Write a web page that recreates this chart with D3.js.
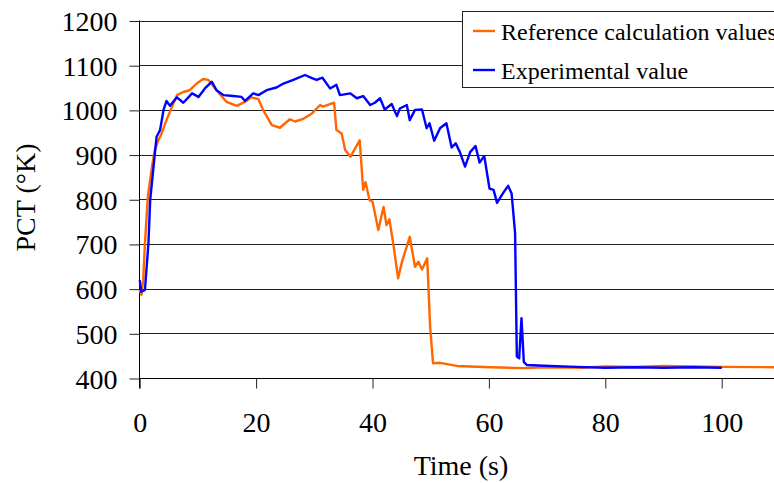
<!DOCTYPE html>
<html>
<head>
<meta charset="utf-8">
<script src="https://cdn.jsdelivr.net/npm/d3@7"></script>
<style>
  body { margin: 0; background: #fff; }
  svg { display: block; }
  svg text { font-family: "Liberation Serif", "Times New Roman", serif; }
</style>
</head>
<body>
<div id="chart"></div>
<script>
// reference calculation (orange)
const refTime = [0, 0.3, 0.6, 0.9, 1.4, 2.1, 2.6, 3.2, 3.6, 4.6, 5.5, 6.4, 7.5, 8.6, 9.8, 10.9, 11.8, 13.2, 14.9, 16.7, 18.1, 19.2, 20.4, 21.2, 22.7, 24.1, 25.8, 26.7, 28.1, 29.6, 31, 31.5, 33.4, 33.8, 34.7, 35.3, 36.2, 37.8, 38.4, 38.8, 39.5, 40, 41, 41.9, 42.4, 42.9, 43.6, 44.4, 45, 46.4, 47.3, 47.9, 48.5, 49.4, 49.9, 50.4, 51.6, 54.5, 60.2, 65.9, 70, 76, 80, 85, 90, 95, 100, 110, 120];
const refPCT = [597, 586, 619, 701, 806, 873, 910, 932, 942, 977, 1005, 1033, 1040, 1044, 1059, 1069, 1067, 1044, 1018, 1009, 1018, 1028, 1024, 1000, 966, 960, 979, 974, 980, 992, 1011, 1007, 1016, 955, 947, 910, 895, 932, 821, 838, 798, 795, 731, 783, 742, 755, 698, 623, 657, 716, 649, 660, 643, 668, 515, 433, 434, 427, 424, 422, 424, 423, 426, 425, 427, 426, 425, 424, 424];

// experimental (blue)
const expTime = [0, 0.3, 0.9, 1.5, 1.8, 2.9, 3.5, 4.1, 4.6, 5.2, 6.4, 7.5, 9, 10.1, 11.2, 12.4, 13.2, 14.4, 16.1, 17.5, 18.1, 19.5, 20.4, 21.8, 23.5, 24.7, 26.4, 28.4, 29.6, 30.4, 31.4, 32.7, 33.8, 34.4, 36.2, 37.3, 38.4, 39.6, 40.4, 41.3, 42.1, 43.3, 44.2, 44.7, 45.9, 46.4, 47.3, 48.5, 49.3, 49.8, 50.6, 51.6, 52.7, 53.6, 54.3, 55, 55.9, 56.8, 57.7, 58.4, 59.2, 60.1, 60.8, 61.4, 62.4, 63.3, 63.9, 64.5, 64.8, 65.2, 65.6, 66, 66.5, 70.5, 75, 80, 85, 90, 95, 100];
const expPCT = [619, 593, 597, 701, 798, 940, 955, 1000, 1020, 1009, 1028, 1016, 1037, 1029, 1048, 1063, 1044, 1033, 1031, 1029, 1020, 1037, 1033, 1044, 1050, 1059, 1067, 1078, 1071, 1067, 1072, 1048, 1056, 1033, 1037, 1026, 1031, 1011, 1016, 1026, 1001, 1013, 986, 1003, 1011, 977, 1000, 1001, 959, 970, 931, 959, 970, 916, 925, 906, 873, 906, 919, 882, 897, 824, 821, 792, 813, 830, 813, 724, 448, 444, 534, 436, 429, 427, 425, 423, 424, 423, 424, 423];

const xTicks = [0, 20, 40, 60, 80, 100];
const yTicks = [400, 500, 600, 700, 800, 900, 1000, 1100, 1200];
const seriesNames = ["Reference calculation values", "Experimental value"];
const seriesColors = ["#ff6600", "#0000ff"];

const W = 774, H = 483;
const x0 = 139.7, yTop = 20.5, yBot = 378;
const serif = '"Liberation Serif", "Times New Roman", serif';

const svg = d3.select("#chart").append("svg")
  .attr("width", W).attr("height", H);

const x = d3.scaleLinear().domain([0, 120]).range([x0, x0 + 5.82 * 120]);
const y = d3.scaleLinear().domain([400, 1200]).range([yBot, yTop]);

// grid lines
svg.append("g")
  .selectAll("line")
  .data(yTicks.slice(1))
  .enter().append("line")
  .attr("x1", x0).attr("x2", W + 10)
  .attr("y1", d => Math.round(y(d)) + 0.5)
  .attr("y2", d => Math.round(y(d)) + 0.5)
  .attr("stroke", "#222").attr("stroke-width", 1);

// y axis
const yAxis = svg.append("g")
  .attr("transform", "translate(" + (Math.round(x0) - 0.5) + ",0.5)")
  .call(d3.axisLeft(y).tickValues(yTicks).tickFormat(d3.format("d"))
    .tickSize(10).tickPadding(12).tickSizeOuter(0));
yAxis.attr("font-family", serif).attr("font-size", 28);
yAxis.select(".domain").attr("d", "M0," + (yTop - 0.5) + "V" + (yBot + 10));
yAxis.selectAll("text").attr("fill", "#000").attr("dy", "0.34em").style("font-family", serif);
yAxis.selectAll("line").attr("stroke", "#222");

// x axis
const xAxis = svg.append("g")
  .attr("transform", "translate(0," + (Math.round(yBot) + 0.5) + ")")
  .call(d3.axisBottom(x).tickValues(xTicks).tickFormat(d3.format("d"))
    .tickSize(10).tickPadding(24).tickSizeOuter(0));
xAxis.attr("font-family", serif).attr("font-size", 28);
xAxis.select(".domain").attr("d", "M" + x0 + ",0H" + (W + 10));
xAxis.selectAll("text").attr("fill", "#000").style("font-family", serif);
xAxis.selectAll("line").attr("stroke", "#222");

// lines
const line = d3.line().x(d => x(d[0])).y(d => y(d[1]));
const refData = refTime.map((t, i) => [t, refPCT[i]]);
const expData = expTime.map((t, i) => [t, expPCT[i]]);

svg.append("path").datum(refData)
  .attr("d", line).attr("fill", "none")
  .attr("stroke", seriesColors[0]).attr("stroke-width", 2.4)
  .attr("stroke-linejoin", "round");
svg.append("path").datum(expData)
  .attr("d", line).attr("fill", "none")
  .attr("stroke", seriesColors[1]).attr("stroke-width", 2.4)
  .attr("stroke-linejoin", "round");

// axis titles
svg.append("text")
  .attr("x", 461).attr("y", 475)
  .attr("text-anchor", "middle").attr("font-size", 28)
  .text("Time (s)");
svg.append("text")
  .attr("transform", "translate(35,197.5) rotate(-90)")
  .attr("text-anchor", "middle").attr("font-size", 28)
  .text("PCT (°K)");

// legend
const legend = svg.append("g");
legend.append("rect")
  .attr("x", 462.5).attr("y", 11.5).attr("width", 400).attr("height", 76)
  .attr("fill", "#fff").attr("stroke", "#222");
seriesNames.forEach((name, i) => {
  const ly = [31, 70][i];
  legend.append("line")
    .attr("x1", 473).attr("x2", 495).attr("y1", ly).attr("y2", ly)
    .attr("stroke", seriesColors[i]).attr("stroke-width", 2.4);
  legend.append("text")
    .attr("x", 501).attr("y", ly + 9)
    .attr("font-size", 24)
    .text(name);
});
</script>
</body>
</html>
